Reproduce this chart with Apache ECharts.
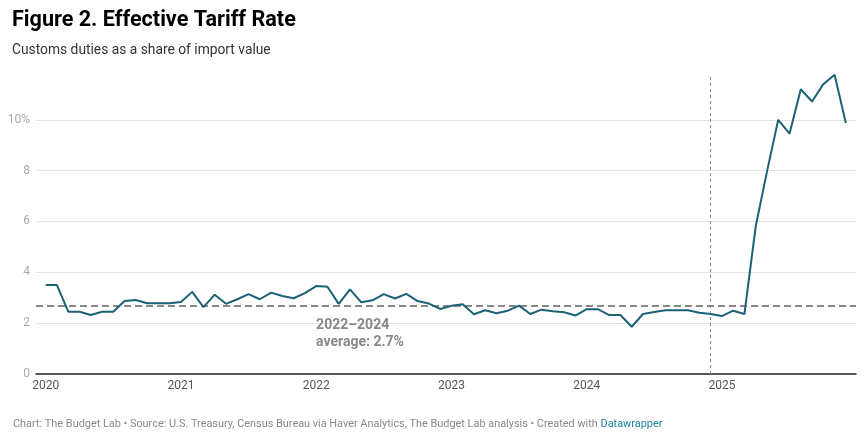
<!DOCTYPE html>
<html>
<head>
<meta charset="utf-8">
<script src="https://cdn.jsdelivr.net/npm/echarts@6/dist/echarts.min.js"></script>
<style>
html,body{margin:0;padding:0;background:#fff;}
#chart{width:868px;height:439px;}
</style>
</head>
<body>
<div id="chart"></div>
<script>
// Monthly effective tariff rate, Jan 2020 .. Dec 2025 (%)
var rate2020 = [3.50, 3.50, 2.45, 2.45, 2.32, 2.45, 2.45, 2.87, 2.91, 2.78, 2.78, 2.78];
var rate2021 = [2.83, 3.23, 2.63, 3.12, 2.76, 2.94, 3.14, 2.94, 3.20, 3.07, 2.98, 3.18];
var rate2022 = [3.46, 3.43, 2.76, 3.33, 2.82, 2.90, 3.14, 2.97, 3.15, 2.87, 2.77, 2.56];
var rate2023 = [2.68, 2.74, 2.35, 2.51, 2.39, 2.49, 2.69, 2.36, 2.53, 2.47, 2.43, 2.30];
var rate2024 = [2.55, 2.55, 2.32, 2.32, 1.86, 2.36, 2.44, 2.51, 2.51, 2.51, 2.41, 2.36];
var rate2025 = [2.28, 2.49, 2.36, 5.80, 7.96, 10.00, 9.45, 11.20, 10.72, 11.40, 11.77, 9.87];
var startYear = 2020;
var yearLabels = ['2020', '2021', '2022', '2023', '2024', '2025'];
var yTicks = [0, 2, 4, 6, 8, 10];
var averageValue = 2.7;
var averageLabel = ['2022–2024', 'average: 2.7%'];
var averageAnchorMonth = 24;   // Jan 2022
var markerMonth = 59;          // Dec 2024

var values = [].concat(rate2020, rate2021, rate2022, rate2023, rate2024, rate2025);
var seriesData = values.map(function (v, i) { return [i, v]; });
var yearTickPositions = yearLabels.map(function (y, i) { return i * 12; });

var chart = echarts.init(document.getElementById('chart'));
var FONT = 'Roboto';
chart.setOption({
  animation: false,
  textStyle: { fontFamily: FONT },
  title: [
    {
      text: 'Figure 2. Effective Tariff Rate',
      subtext: 'Customs duties as a share of import value',
      left: 7, top: 5,
      itemGap: 12,
      textStyle: { fontFamily: FONT, fontSize: 21.6, fontWeight: 'bold', color: '#000' },
      subtextStyle: { fontFamily: FONT, fontSize: 13.8, color: '#333' }
    },
    {
      text: '{a|Chart: The Budget Lab • Source: U.S. Treasury, Census Bureau via Haver Analytics, The Budget Lab analysis • Created with }{b|Datawrapper}',
      left: 8, top: 414,
      textStyle: {
        fontFamily: FONT, fontSize: 10.9, fontWeight: 'normal',
        rich: {
          a: { fontFamily: FONT, fontSize: 10.9, color: '#888' },
          b: { fontFamily: FONT, fontSize: 10.9, color: '#1d81a2' }
        }
      }
    }
  ],
  grid: { left: 36, right: 12, top: 74, bottom: 65, containLabel: false },
  xAxis: {
    type: 'value',
    min: -0.86, max: 71.9,
    axisLine: { show: true, onZero: false, lineStyle: { color: '#222', width: 1.5 } },
    axisTick: { show: false },
    splitLine: { show: false },
    axisLabel: {
      customValues: yearTickPositions,
      color: '#555', fontSize: 12, fontFamily: FONT, margin: 6,
      formatter: function (v) { return String(startYear + Math.round(v / 12)); }
    }
  },
  yAxis: {
    type: 'value',
    min: 0, max: 11.8,
    axisLine: { show: false },
    axisTick: { show: false },
    splitLine: { show: false },
    axisLabel: {
      customValues: yTicks,
      color: '#aaa', fontSize: 12, fontFamily: FONT, margin: 6,
      formatter: function (v) { return v === 10 ? '10%' : String(v); }
    }
  },
  series: [
    {
      // gridlines drawn from yTicks
      type: 'line', data: [], silent: true,
      markLine: {
        symbol: 'none', silent: true, animation: false,
        label: { show: false },
        lineStyle: { color: '#e3e3e3', width: 1, type: 'solid' },
        data: yTicks.filter(function (t) { return t > 0; }).map(function (t) { return { yAxis: t }; })
      }
    },
    {
      type: 'line',
      data: seriesData,
      showSymbol: false,
      symbol: 'none',
      z: 5,
      lineStyle: { color: '#1d6176', width: 2 },
      markLine: {
        symbol: 'none', silent: true, animation: false,
        label: { show: false },
        data: [
          { yAxis: averageValue, lineStyle: { color: '#888', width: 2, type: [7, 4] } },
          { xAxis: markerMonth, lineStyle: { color: '#888', width: 1, type: [3, 3] } }
        ]
      },
      markPoint: {
        silent: true, animation: false,
        symbol: 'circle', symbolSize: 0.1,
        itemStyle: { color: 'rgba(0,0,0,0)' },
        data: [{
          coord: [averageAnchorMonth, averageValue],
          label: {
            show: true,
            position: [0, 12],
            align: 'left', verticalAlign: 'top',
            formatter: averageLabel.join('\n'),
            fontFamily: FONT, fontSize: 14, fontWeight: 'bold',
            lineHeight: 17, color: '#888'
          }
        }]
      }
    }
  ]
});
</script>
</body>
</html>
